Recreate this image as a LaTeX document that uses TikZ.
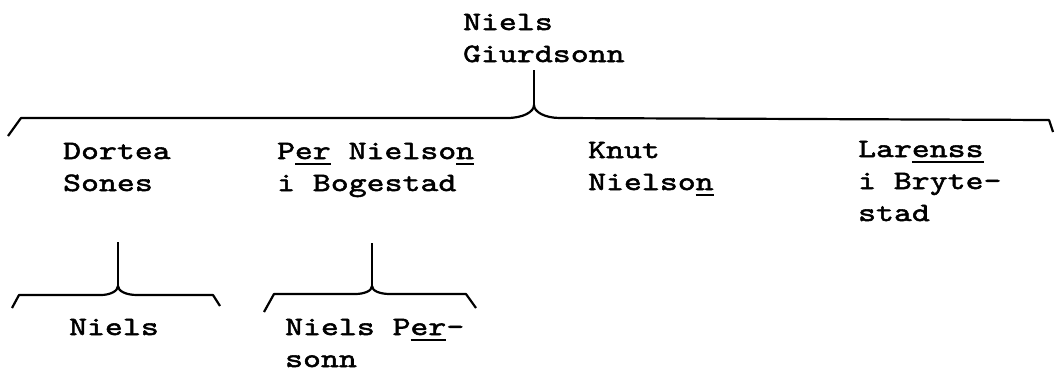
\documentclass[tikz,border=0pt]{standalone}
\usepackage{fontspec}
\newfontfamily\twf{lmmono10-regular.otf}[FakeStretch=1.28,LetterSpace=0.5,FakeBold=2]
\newcommand\myul[1]{\setbox0\hbox{#1}\rlap{\rule[-6pt]{\wd0}{2pt}}#1}
\newcommand\twfont{\twf\fontsize{26.5}{32}\selectfont}
\begin{document}
\begin{tikzpicture}[x=1pt,y=-1pt,
  lbl/.style={anchor=base west, inner sep=0pt, align=left, font=\twfont},
  brk/.style={line width=2.2pt, line join=round}]
\useasboundingbox[fill=white] (0,0) rectangle (1063,376);
% labels (anchor = baseline of the last line)
\node[lbl] (root) at (463,62) {Niels\\Giurdsonn};
\node[lbl] (dortea) at (63,191) {Dortea\\Sones};
\node[lbl] (per) at (277,191) {P\myul{er} Nielso\myul{n}\\i Bogestad};
\node[lbl] (knut) at (588,190) {Knut\\Nielso\myul{n}};
\node[lbl] (larenss) at (858,221) {Lar\myul{enss}\\i Bryte-\\stad};
\node[lbl] (niels) at (69,335) {Niels};
\node[lbl] (nielsper) at (285,367) {Niels P\myul{er}-\\sonn};
% top bracket
\coordinate (c0) at (534,105);
\draw[brk] (534,70) -- (c0);
\draw[brk] (8,136) -- (21,118) -- (507,118) .. controls (523,118) and (534,112) .. (c0)
  .. controls (534,112) and (545,118) .. (560,118) -- (1049,120) -- (1053,132);
% left bottom bracket
\coordinate (c1) at (118,286);
\draw[brk] (118,242) -- (c1);
\draw[brk] (12,308) -- (19,295) -- (101,295) .. controls (110,295) and (118,291) .. (c1)
  .. controls (118,291) and (126,295) .. (137,295) -- (213,295) -- (220,306);
% second bottom bracket
\coordinate (c2) at (372,286);
\draw[brk] (372,243) -- (c2);
\draw[brk] (264,312) -- (274,294) -- (355,294) .. controls (364,294) and (372,291) .. (c2)
  .. controls (372,291) and (380,294) .. (390,294) -- (466,294) -- (476,308);
\end{tikzpicture}
\end{document}
